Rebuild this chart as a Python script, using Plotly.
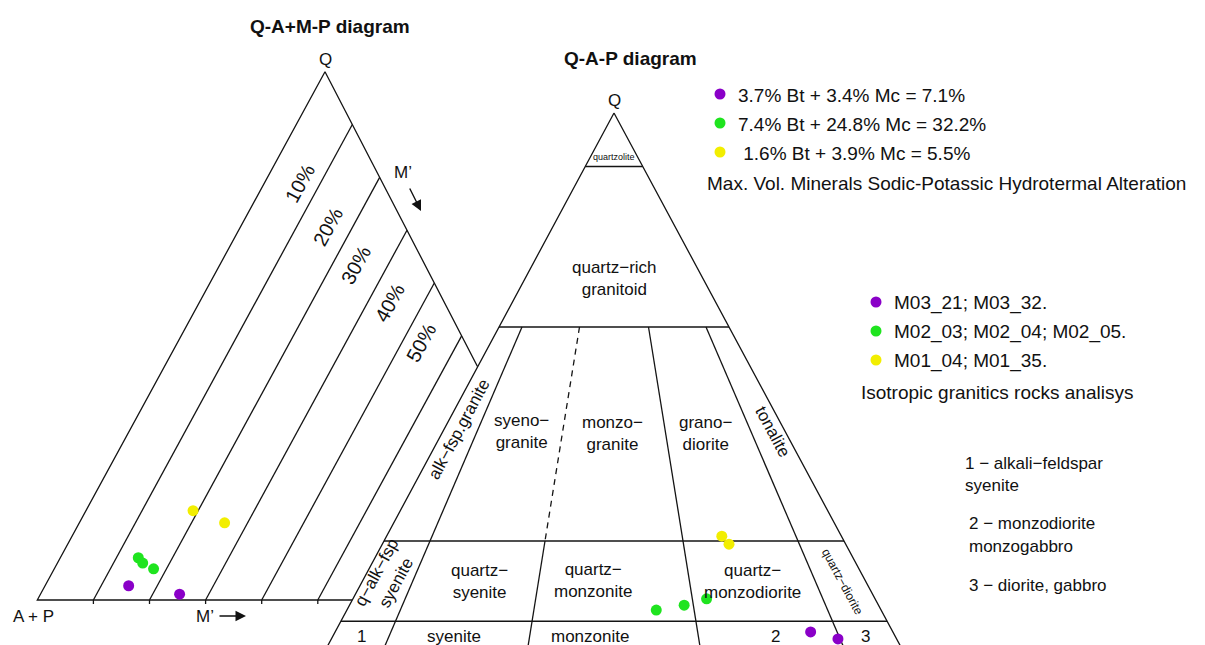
import math
import plotly.graph_objects as go

# ---------------------------------------------------------------------------
# Sample compositions (percent)
# Q-(A+P)-M' diagram: quartz and M' content, A+P is the remainder
qam_q_purple = [2.7, 1.1]
qam_m_purple = [14.9, 24.8]
qam_q_green = [8.0, 7.0, 5.9]
qam_m_green = [13.9, 15.2, 17.7]
qam_q_yellow = [16.9, 14.6]
qam_m_yellow = [19.1, 25.9]

# Q-A-P diagram
qap_q_purple = [3.0, 1.7]
qap_a_purple = [14.3, 10.2]
qap_p_purple = [82.7, 88.1]
qap_q_green = [7.1, 8.0, 9.2]
qap_a_green = [39.1, 33.8, 29.3]
qap_p_green = [53.8, 58.2, 61.5]
qap_q_yellow = [20.9, 19.4]
qap_a_yellow = [20.8, 20.3]
qap_p_yellow = [58.3, 60.3]

alteration_labels = ["3.7% Bt + 3.4% Mc = 7.1%",
                     "7.4% Bt + 24.8% Mc = 32.2%",
                     " 1.6% Bt + 3.9% Mc = 5.5%"]
sample_labels = ["M03_21; M03_32.",
                 "M02_03; M02_04; M02_05.",
                 "M01_04; M01_35."]
mprime_levels = [10, 20, 30, 40, 50]
qap_q_levels = [90, 60, 20, 5]
qap_ratio_levels = [10, 35, 65, 90]

# ---------------------------------------------------------------------------
# Styling / geometry
W, H = 1205, 645
FONT = "Arial, Liberation Sans, sans-serif"
INK = "#141414"
LW = 1.3
COLORS = {"purple": "#8a00c8", "green": "#1fe41f", "yellow": "#f2ee00"}

QAP_APEX = (614.0, 113.0)
QAP_HALF = 287.5
QAP_HEIGHT = 535.0

QAM_Q = (325.0, 71.7)
QAM_AP = (37.3, 600.0)
QAM_M = (598.3, 600.0)


def qap_xy(q, a, p):
    s = q + a + p
    q, a, p = q / s, a / s, p / s
    return QAP_APEX[0] + QAP_HALF * (p - a), QAP_APEX[1] + QAP_HEIGHT * (1 - q)


def qap_rq(q_pct, r_pct):
    """Point with quartz q_pct and P/(A+P) = r_pct."""
    q = q_pct / 100.0
    r = r_pct / 100.0
    return qap_xy(q, (1 - q) * (1 - r), (1 - q) * r)


def qam_xy(q, m):
    q, m = q / 100.0, m / 100.0
    ap = 1 - q - m
    x = q * QAM_Q[0] + ap * QAM_AP[0] + m * QAM_M[0]
    y = q * QAM_Q[1] + ap * QAM_AP[1] + m * QAM_M[1]
    return x, y


def segs_to_xy(segs):
    xs, ys = [], []
    for pts in segs:
        for (x, y) in pts:
            xs.append(x)
            ys.append(y)
        xs.append(None)
        ys.append(None)
    return xs, ys


fig = go.Figure()

# ---------------------------------------------------------------------------
# Q-(A+P)-M' diagram frame
qam_segs = [
    [qam_xy(100, 0), qam_xy(0, 0), qam_xy(0, 100), qam_xy(100, 0)],
]
for m in mprime_levels:
    qam_segs.append([qam_xy(0, m), qam_xy(100 - m, m)])
    bx, by = qam_xy(0, m)
    qam_segs.append([(bx, by), (bx, by + 4)])
xs, ys = segs_to_xy(qam_segs)
fig.add_trace(go.Scatter(x=xs, y=ys, mode="lines", line=dict(color=INK, width=LW),
                         hoverinfo="skip", showlegend=False))

# QAP triangle background covers the overlapped part of the left diagram
tri = [qap_xy(100, 0, 0), qap_xy(0, 100, 0), qap_xy(0, 0, 100), qap_xy(100, 0, 0)]
fig.add_trace(go.Scatter(x=[p[0] for p in tri], y=[p[1] for p in tri], mode="lines",
                         fill="toself", fillcolor="white", line=dict(color=INK, width=LW),
                         hoverinfo="skip", showlegend=False))

# QAP field boundaries
qap_segs = []
for ql in qap_q_levels:
    qap_segs.append([qap_rq(ql, 0), qap_rq(ql, 100)])
for r in qap_ratio_levels:
    if r == 35:
        qap_segs.append([qap_rq(20, r), qap_rq(0, r)])
    else:
        qap_segs.append([qap_rq(60, r), qap_rq(0, r)])
xs, ys = segs_to_xy(qap_segs)
fig.add_trace(go.Scatter(x=xs, y=ys, mode="lines", line=dict(color=INK, width=LW),
                         hoverinfo="skip", showlegend=False))
d0, d1 = qap_rq(60, 35), qap_rq(20, 35)
fig.add_trace(go.Scatter(x=[d0[0], d1[0]], y=[d0[1], d1[1]], mode="lines",
                         line=dict(color=INK, width=LW, dash="6px,5px"),
                         hoverinfo="skip", showlegend=False))

# ---------------------------------------------------------------------------
# Sample points
qam_sets = [("purple", qam_q_purple, qam_m_purple),
            ("green", qam_q_green, qam_m_green),
            ("yellow", qam_q_yellow, qam_m_yellow)]
for name, qv, mv in qam_sets:
    pts = [qam_xy(q, m) for q, m in zip(qv, mv)]
    fig.add_trace(go.Scatter(x=[p[0] for p in pts], y=[p[1] for p in pts], mode="markers",
                             marker=dict(size=11, color=COLORS[name]),
                             showlegend=False))

qap_sets = [("purple", qap_q_purple, qap_a_purple, qap_p_purple),
            ("green", qap_q_green, qap_a_green, qap_p_green),
            ("yellow", qap_q_yellow, qap_a_yellow, qap_p_yellow)]
for name, qv, av, pv in qap_sets:
    pts = [qap_xy(q, a, p) for q, a, p in zip(qv, av, pv)]
    fig.add_trace(go.Scatter(x=[p[0] for p in pts], y=[p[1] for p in pts], mode="markers",
                             marker=dict(size=11, color=COLORS[name]),
                             showlegend=False))

# ---------------------------------------------------------------------------
# Text
annotations = []


def text(x, y, s, size=17, angle=0, bold=False, xanchor="center", align="center"):
    annotations.append(dict(x=x, y=y, xref="x", yref="y", text=("<b>%s</b>" % s) if bold else s,
                            showarrow=False, textangle=angle, xanchor=xanchor, yanchor="middle",
                            align=align,
                            font=dict(family=FONT, size=size, color="#111111")))


def arrow(x0, y0, x1, y1):
    annotations.append(dict(x=x1, y=y1, ax=x0, ay=y0, xref="x", yref="y", axref="x", ayref="y",
                            text="", showarrow=True, arrowhead=2, arrowsize=1.5,
                            arrowwidth=1.4, arrowcolor="#111111"))


left_angle = -math.degrees(math.atan2(QAM_AP[1] - QAM_Q[1], QAM_Q[0] - QAM_AP[0]))
qap_angle = math.degrees(math.atan2(QAP_HEIGHT, QAP_HALF))

# left diagram
text(330, 26, "Q-A+M-P diagram", size=19, bold=True)
text(325, 59, "Q", size=17)
pct_pos = [(78.9, 6.4), (70.6, 15.6), (63.4, 24.3), (56.2, 34.0), (48.7, 43.4)]
for lvl, (q, m) in zip(mprime_levels, pct_pos):
    x, y = qam_xy(q, m)
    text(x, y, "%d%%" % lvl, size=20, angle=left_angle)
text(403, 172, "M’", size=17)
arrow(409, 187, 421, 211)
text(33, 616, "A + P", size=17)
text(205, 616, "M’", size=17)
arrow(218, 616, 246, 616)

# QAP diagram
text(630, 58, "Q-A-P diagram", size=19, bold=True)
text(QAP_APEX[0], 100, "Q", size=17)
fields = [
    (91.8, 50, "quartzolite", 9, 0),
    (69.1, 50, "quartz−rich<br>granitoid", 17, 0),
    (40.8, 4.5, "alk−fsp.granite", 17, -qap_angle),
    (40.4, 23.1, "syeno−<br>granite", 17, 0),
    (40.1, 49.6, "monzo−<br>granite", 17, 0),
    (40.1, 76.7, "grano−<br>diorite", 17, 0),
    (40.4, 96.2, "tonalite", 17, qap_angle),
    (13.1, 4.5, "q−alk−fsp<br>syenite", 17, -qap_angle),
    (12.4, 23.3, "quartz−<br>syenite", 17, 0),
    (12.7, 45.8, "quartz−<br>monzonite", 17, 0),
    (12.4, 77.4, "quartz−<br>monzodiorite", 17, 0),
    (12.4, 95.4, "quartz−diorite", 12, qap_angle),
    (2.1, 5.2, "1", 17, 0),
    (2.1, 21.5, "syenite", 17, 0),
    (2.1, 45.7, "monzonite", 17, 0),
    (2.1, 78.6, "2", 17, 0),
    (2.1, 94.7, "3", 17, 0),
]
for q, r, s, size, ang in fields:
    x, y = qap_rq(q, r)
    text(x, y, s, size=size, angle=ang)

# Legends
shapes = []
leg1_rows = [94, 123, 152]
for color, lab, y in zip(["purple", "green", "yellow"], alteration_labels, leg1_rows):
    shapes.append(dict(type="circle", xref="x", yref="y", x0=714.5, x1=725.5, y0=y - 5.5, y1=y + 5.5,
                       fillcolor=COLORS[color], line=dict(width=0)))
    text(736, y + 1, lab, size=19, xanchor="left")
text(705, 183, "Max. Vol. Minerals Sodic-Potassic Hydrotermal Alteration", size=19, xanchor="left")

leg2_rows = [302, 331, 360]
for color, lab, y in zip(["purple", "green", "yellow"], sample_labels, leg2_rows):
    shapes.append(dict(type="circle", xref="x", yref="y", x0=870.5, x1=881.5, y0=y - 5.5, y1=y + 5.5,
                       fillcolor=COLORS[color], line=dict(width=0)))
    text(892, y + 1, lab, size=19, xanchor="left")
text(859, 392, "Isotropic granitics rocks analisys", size=19, xanchor="left")

text(963, 474, "1 − alkali−feldspar<br>syenite", size=17, xanchor="left", align="left")
text(967, 523, "2 − monzodiorite", size=17, xanchor="left")
text(967, 546, "monzogabbro", size=17, xanchor="left")
text(967, 585, "3 − diorite, gabbro", size=17, xanchor="left")

fig.update_layout(
    width=W, height=H, autosize=False,
    margin=dict(l=0, r=0, t=0, b=0),
    paper_bgcolor="white", plot_bgcolor="white",
    xaxis=dict(range=[0, W], visible=False, fixedrange=True),
    yaxis=dict(range=[H, 0], visible=False, fixedrange=True),
    annotations=annotations, shapes=shapes,
    showlegend=False,
)
fig.write_html("out.html")
